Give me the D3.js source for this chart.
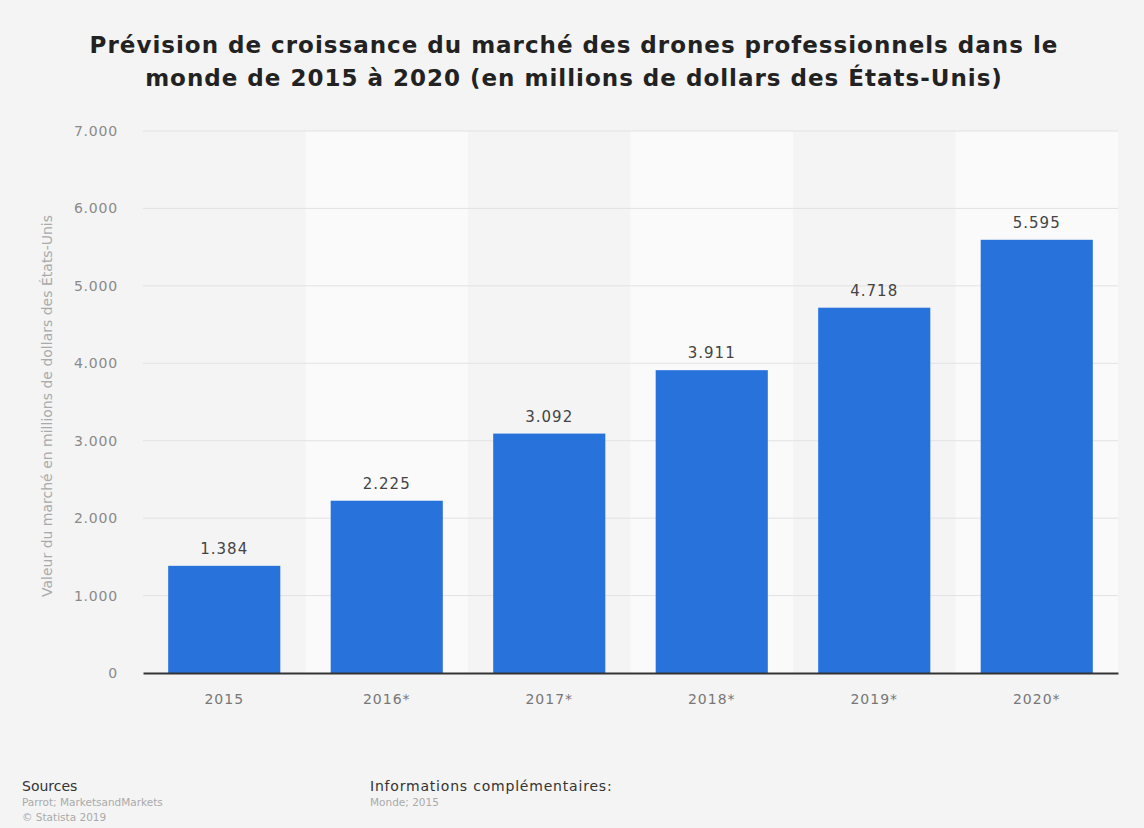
<!DOCTYPE html>
<html>
<head>
<meta charset="utf-8">
<script src="https://cdn.jsdelivr.net/npm/d3@7"></script>
<style>
  body { margin: 0; background: #f4f4f4; }
  svg { display: block; font-family: "DejaVu Sans", sans-serif; }
</style>
</head>
<body>
<div id="chart"></div>
<script>
var width = 1144,
    height = 828,
    margin = {top: 131, bottom: 155, left: 143, right: 26};

var years = ["2015", "2016*", "2017*", "2018*", "2019*", "2020*"];
var values = [1384, 2225, 3092, 3911, 4718, 5595];
var yTicks = [0, 1000, 2000, 3000, 4000, 5000, 6000, 7000];

var fmt = function(v) { return d3.format(",")(v).replace(/,/g, "."); };

var svg = d3.select("#chart")
    .append("svg")
    .attr("width", width)
    .attr("height", height);

svg.append("rect")
    .attr("width", width)
    .attr("height", height)
    .attr("fill", "#f4f4f4");

var xScale = d3.scaleBand()
    .domain(years)
    .range([margin.left, width - margin.right])
    .paddingInner(0.31)
    .paddingOuter(0.155);

var yScale = d3.scaleLinear()
    .domain([0, 7000])
    .range([height - margin.bottom, margin.top]);

var step = xScale.step();

// alternating column backgrounds
svg.append("g")
    .selectAll("rect")
    .data(years)
    .join("rect")
    .attr("x", function(d) { return xScale(d) - xScale.paddingInner() * step / 2; })
    .attr("y", margin.top)
    .attr("width", step)
    .attr("height", yScale(0) - margin.top)
    .attr("fill", function(d, i) { return i % 2 ? "#fafafa" : "#f4f4f4"; });

// gridlines
svg.append("g")
    .selectAll("line")
    .data(yTicks.slice(1))
    .join("line")
    .attr("x1", margin.left)
    .attr("x2", width - margin.right)
    .attr("y1", function(d) { return yScale(d); })
    .attr("y2", function(d) { return yScale(d); })
    .attr("stroke", "#e2e2e2")
    .attr("stroke-width", 1);

// y axis labels
var yAxis = svg.append("g")
    .attr("transform", "translate(" + (margin.left - 22) + ",0)")
    .call(d3.axisLeft(yScale).tickValues(yTicks).tickSize(0).tickFormat(fmt));
yAxis.select(".domain").remove();
yAxis.selectAll("text")
    .attr("fill", "#8a8a8a")
    .style("font-size", "14px")
    .style("letter-spacing", "0.8px")
    .style("font-family", "DejaVu Sans, sans-serif");

// bars
svg.append("g")
    .selectAll("rect")
    .data(values)
    .join("rect")
    .attr("x", function(d, i) { return xScale(years[i]); })
    .attr("y", function(d) { return yScale(d); })
    .attr("width", xScale.bandwidth())
    .attr("height", function(d) { return yScale(0) - yScale(d); })
    .attr("fill", "#2872dc");

// value labels
svg.append("g")
    .selectAll("text")
    .data(values)
    .join("text")
    .attr("x", function(d, i) { return xScale(years[i]) + xScale.bandwidth() / 2; })
    .attr("y", function(d) { return yScale(d) - 12; })
    .attr("text-anchor", "middle")
    .attr("fill", "#444")
    .style("font-size", "15px")
    .style("letter-spacing", "1px")
    .text(fmt);

// x axis
var xAxis = svg.append("g")
    .attr("transform", "translate(0," + yScale(0) + ")")
    .call(d3.axisBottom(xScale).tickSize(0).tickPadding(21));
xAxis.select(".domain")
    .attr("stroke", "#333")
    .attr("stroke-width", 2);
xAxis.selectAll("text")
    .attr("fill", "#777")
    .style("font-size", "14px")
    .style("letter-spacing", "1px")
    .style("font-family", "DejaVu Sans, sans-serif");

// y axis title
svg.append("text")
    .attr("transform", "translate(52," + ((yScale(0) + yScale(7000)) / 2 + 4) + ") rotate(-90)")
    .attr("text-anchor", "middle")
    .attr("fill", "#aaa")
    .style("font-size", "14px")
    .text("Valeur du marché en millions de dollars des États-Unis");

// title
var titleLines = ["Prévision de croissance du marché des drones professionnels dans le",
                  "monde de 2015 à 2020 (en millions de dollars des États-Unis)"];
svg.append("g")
    .selectAll("text")
    .data(titleLines)
    .join("text")
    .attr("x", width / 2 + 2)
    .attr("y", function(d, i) { return 53 + i * 33; })
    .attr("text-anchor", "middle")
    .attr("fill", "#222")
    .style("font-size", "23px")
    .style("letter-spacing", "1px")
    .style("font-weight", "bold")
    .text(function(d) { return d; });

// footer
var footer = svg.append("g");
footer.append("text").attr("x", 22).attr("y", 791).attr("fill", "#333")
    .style("font-size", "14px").text("Sources");
footer.append("text").attr("x", 22).attr("y", 806).attr("fill", "#aaa")
    .style("font-size", "10.5px").text("Parrot; MarketsandMarkets");
footer.append("text").attr("x", 22).attr("y", 821).attr("fill", "#aaa")
    .style("font-size", "10.5px").text("© Statista 2019");
footer.append("text").attr("x", 370).attr("y", 791).attr("fill", "#333")
    .style("font-size", "14px").style("letter-spacing", "0.8px").text("Informations complémentaires:");
footer.append("text").attr("x", 370).attr("y", 806).attr("fill", "#aaa")
    .style("font-size", "10.5px").text("Monde; 2015");
</script>
</body>
</html>
